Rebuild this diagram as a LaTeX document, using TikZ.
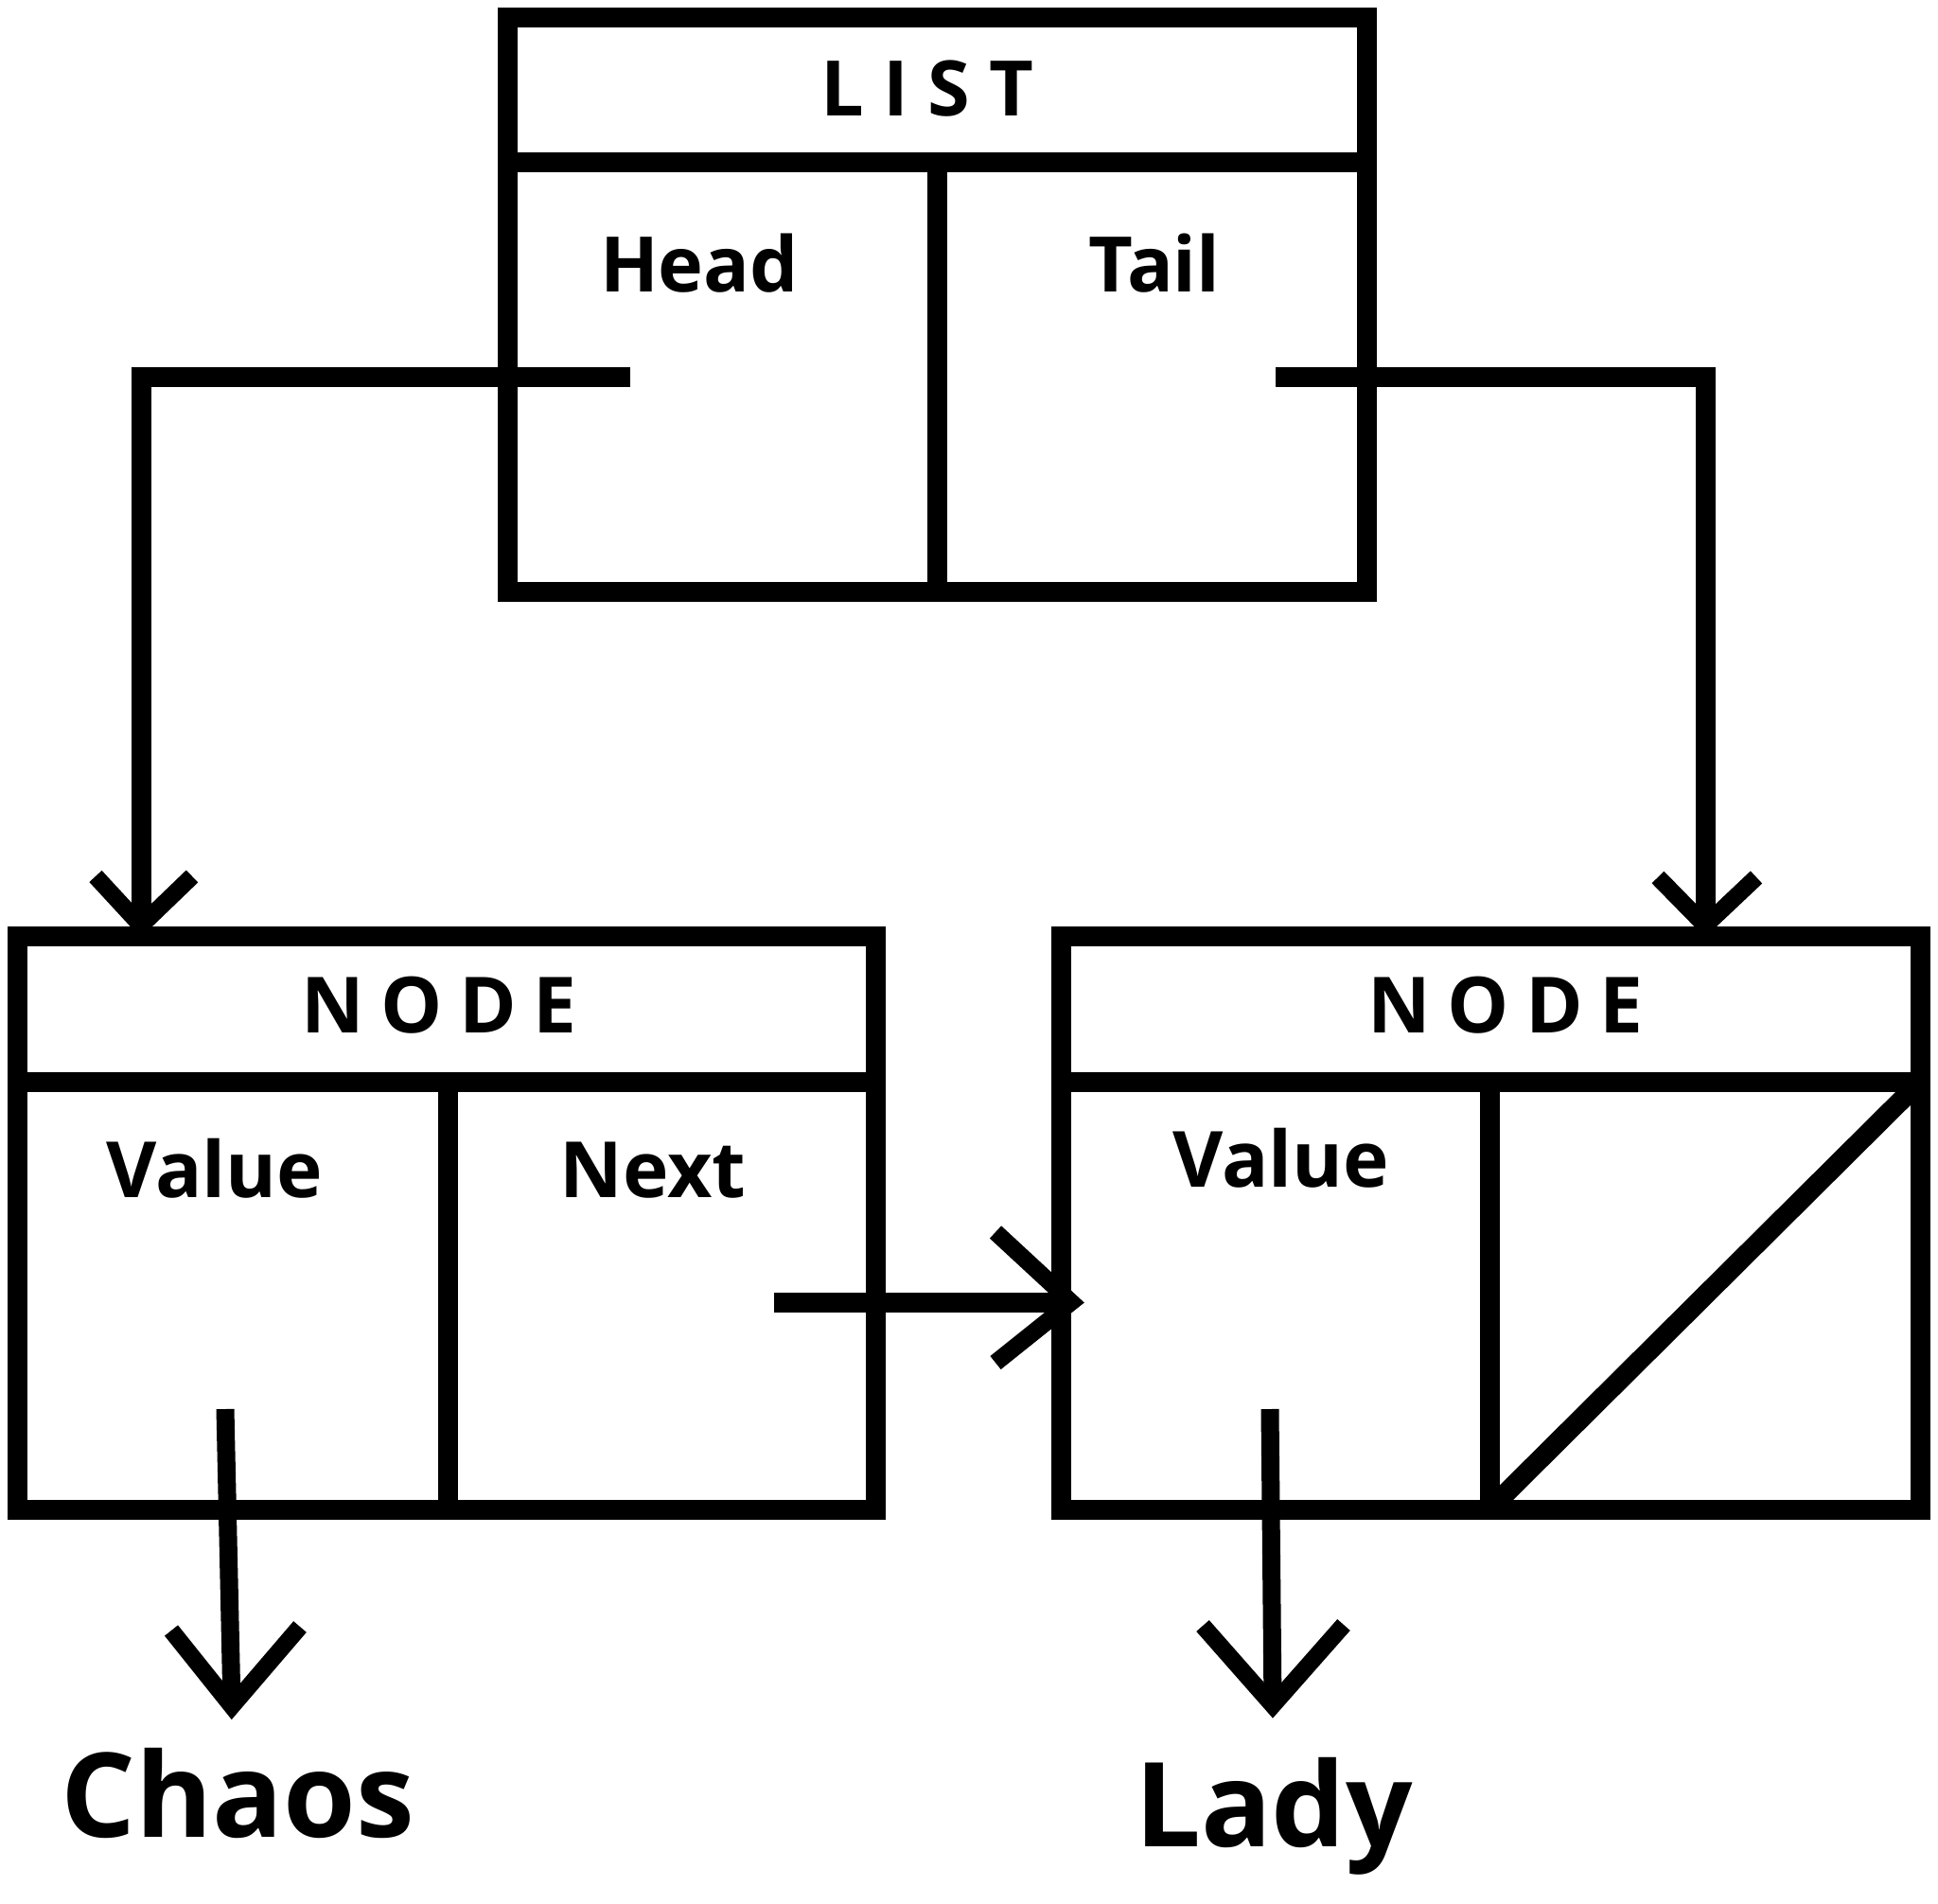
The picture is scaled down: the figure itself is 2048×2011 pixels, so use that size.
\documentclass[tikz,border=0pt]{standalone}
\usepackage{fontspec}
\setmainfont{Open Sans}
\usetikzlibrary{calc}
\begin{document}
\begin{tikzpicture}[x=0.5pt,y=-0.5pt,
  frame/.style={draw, line width=10.5pt, line join=miter, outer sep=0pt, inner sep=0pt},
  box/.style={line width=10.5pt, line join=miter},
  ptr/.style={line width=10.5pt, line join=miter},
  barb/.style={line width=9pt, line join=miter},
  lbl/.style={inner sep=0pt, anchor=base, font=\bfseries\fontsize{40.5}{48}\selectfont},
  hdr/.style={inner sep=0pt, anchor=base, font=\bfseries\fontsize{41}{50}\selectfont},
  big/.style={inner sep=0pt, anchor=base, font=\bfseries\fontsize{62}{72}\selectfont}]
\useasboundingbox (0,0) rectangle (2048,2011);

% LIST box
\node[frame, minimum width=454pt, minimum height=303.25pt] (list) at (990,321.75) {};
\draw[box] (list.west |- 0,171.5) -- (list.east |- 0,171.5);
\draw[box] (990,171.5) -- (list.south -| 990,0);

% NODE 1
\node[frame, minimum width=453.5pt, minimum height=303pt] (node1) at (471.5,1292) {};
\draw[box] (node1.west |- 0,1143) -- (node1.east |- 0,1143);
\draw[box] (473,1143) -- (node1.south -| 473,0);

% NODE 2
\node[frame, minimum width=454pt, minimum height=303pt] (node2) at (1575,1292) {};
\draw[box] (node2.west |- 0,1143) -- (node2.east |- 0,1143);
\draw[box] (1574,1143) -- (node2.south -| 1574,0);
\draw[box] (node2.south -| 1574,0) -- (node2.east |- 0,1143);

% labels
\node[lbl] (listlbl) at (980,123) {L\hspace{0.25em}I\hspace{0.25em}S\hspace{0.25em}T};
\node[lbl] (headlbl) at (739,309) {Head};
\node[lbl] (taillbl) at (1220,309) {Tail};
\node[hdr] (node1lbl) at (464,1091) {N\hspace{0.21em}O\hspace{0.21em}D\hspace{0.21em}E};
\node[hdr] (node2lbl) at (1591,1091) {N\hspace{0.21em}O\hspace{0.21em}D\hspace{0.21em}E};
\node[hdr] (val1lbl) at (227,1265) {Value};
\node[hdr] (nextlbl) at (690,1265) {Next};
\node[hdr] (val2lbl) at (1354,1254) {Value};
\node[big] (chaos) at (251,1941) {Chaos};
\node[big] (lady) at (1346,1951) {Lady};

% connector end points
\coordinate (headsrc) at (666,398);
\coordinate (headtip) at (149,978);
\coordinate (tailsrc) at (1348,398);
\coordinate (tailtip) at (1802,978);
\coordinate (nextsrc) at (818,1376);
\coordinate (nexttip) at (1132,1376);
\coordinate (val1src) at (238,1489);
\coordinate (val1tip) at (245,1803);
\coordinate (val2src) at (1342,1489);
\coordinate (val2tip) at (1345,1802);

% connectors
\draw[ptr] (headsrc) -| (headtip);
\draw[barb] ([shift={(-48,-52)}]headtip) -- (headtip) -- ([shift={(54,-52)}]headtip);

\draw[ptr] (tailsrc) -| (tailtip);
\draw[barb] ([shift={(-50,-51)}]tailtip) -- (tailtip) -- ([shift={(54,-51)}]tailtip);

\draw[ptr] (nextsrc) -- (nexttip);
\draw[barb] ([shift={(-80,-74)}]nexttip) -- (nexttip) -- ([shift={(-80,64)}]nexttip);

\draw[ptr, line width=9.5pt] (val1src) -- (val1tip);
\draw[barb] ([shift={(-64,-80)}]val1tip) -- (val1tip) -- ([shift={(72,-84)}]val1tip);

\draw[ptr, line width=9.5pt] (val2src) -- (val2tip);
\draw[barb] ([shift={(-74,-84)}]val2tip) -- (val2tip) -- ([shift={(75,-85)}]val2tip);
\end{tikzpicture}
\end{document}
